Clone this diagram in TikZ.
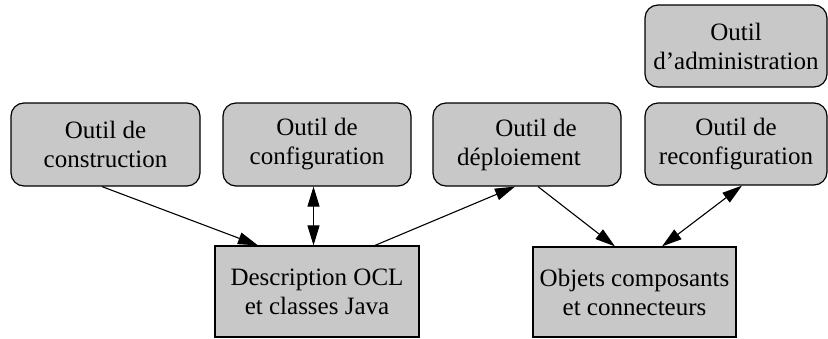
\documentclass[tikz,border=0pt]{standalone}
\usepackage{fontspec}
\setmainfont{Liberation Serif}
\usetikzlibrary{arrows.meta,calc}
\definecolor{boxgray}{RGB}{200,200,200}
\tikzset{
  base/.style={draw=black, line width=1.2pt, fill=boxgray, align=center,
    font=\fontsize{25}{29}\selectfont, inner sep=0pt},
  tool/.style={base, rounded corners=13pt},
  data/.style={base},
  tip/.tip={Triangle[length=20pt,width=12pt]},
  link/.style={line width=1.1pt, -tip},
  dlink/.style={line width=1.1pt, tip-tip},
}
\begin{document}
\begin{tikzpicture}[x=1pt,y=-1pt]
\useasboundingbox (0,0) rectangle (828,338);
\node[tool, minimum width=189pt, minimum height=83pt] (cons) at (105.5,144.5) {Outil de\\construction};
\node[tool, minimum width=188pt, minimum height=83pt] (conf) at (317,144.5) {Outil de\\configuration};
\node[tool, minimum width=188pt, minimum height=83pt] (depl) at (527,144.5) {\hspace*{18pt}Outil de\\déploiement\hspace*{16pt}};
\node[tool, minimum width=182pt, minimum height=82pt] (reconf) at (736,144) {Outil de\\reconfiguration};
\node[tool, minimum width=182pt, minimum height=82pt] (admin) at (736,46) {Outil\\d’administration};
\node[data, minimum width=204pt, minimum height=91pt] (desc) at (317,291.5) {Description OCL\\et classes Java};
\node[data, minimum width=203pt, minimum height=90pt] (obj) at (634.5,292) {Objets composants\\et connecteurs};
\draw[link] ([xshift=-3.5pt]cons.south) -- ([xshift=-59pt]desc.north);
\draw[dlink] ([xshift=-3.5pt]conf.south) -- ([xshift=-3.5pt]desc.north);
\draw[link] ([xshift=58pt]desc.north) -- ([xshift=-12pt]depl.south);
\draw[link] ([xshift=11pt]depl.south) -- ([xshift=-19.5pt]obj.north);
\draw[dlink] ([xshift=27.5pt]obj.north) -- ([xshift=6pt]reconf.south);
\end{tikzpicture}
\end{document}
